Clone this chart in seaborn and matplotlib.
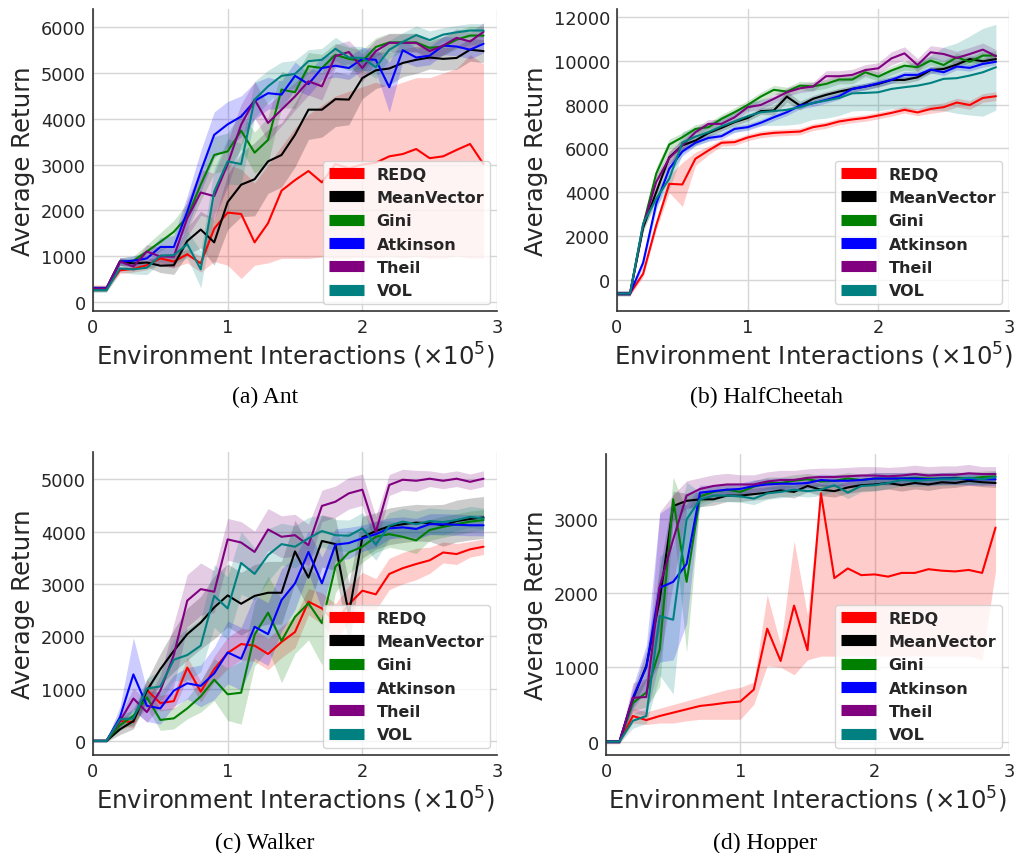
import numpy as np
import pandas as pd
import seaborn as sns
import matplotlib
matplotlib.use("Agg")
import matplotlib.pyplot as plt
from matplotlib.lines import Line2D

# ---------------- data ----------------
STEPS = [0.0, 0.1, 0.2, 0.3, 0.4, 0.5, 0.6, 0.7, 0.8, 0.9,
         1.0, 1.1, 1.2, 1.3, 1.4, 1.5, 1.6, 1.7, 1.8, 1.9,
         2.0, 2.1, 2.2, 2.3, 2.4, 2.5, 2.6, 2.7, 2.8, 2.9]
METHODS = ["REDQ", "MeanVector", "Gini", "Atkinson", "Theil", "VOL"]
COLORS = ["#ff0000", "#000000", "#008000", "#0000ff", "#800080", "#008080"]

# Ant
ANT_REDQ = [300, 300, 690, 720, 800, 950, 880, 1040, 840, 1600, 1950, 1920, 1300, 1720, 2430,
            2660, 2860, 2610, 3010, 2920, 3000, 3040, 3180, 3230, 3340, 3140, 3180, 3320, 3450, 3010]
ANT_REDQ_LO = [230, 230, 620, 650, 700, 850, 750, 850, 650, 880, 800, 510, 800, 850, 950,
               950, 950, 980, 950, 950, 980, 950, 1000, 950, 1000, 950, 950, 1000, 950, 950]
ANT_REDQ_HI = [370, 370, 760, 800, 900, 1050, 1050, 1150, 1000, 2300, 3000, 2900, 2600, 3000, 3400,
               3800, 4100, 4300, 4500, 4600, 4700, 4800, 4700, 4800, 4900, 4900, 5000, 5100, 5400, 5200]
ANT_MV = [290, 290, 880, 840, 860, 790, 800, 1330, 1580, 1300, 2180, 2560, 2680, 3070, 3210,
          3650, 4200, 4200, 4430, 4420, 4890, 5060, 5100, 5220, 5290, 5340, 5310, 5330, 5510, 5480]
ANT_MV_SD = [60, 60, 80, 80, 100, 150, 200, 300, 400, 500, 600, 700, 800, 700, 700,
             700, 650, 600, 600, 550, 450, 400, 350, 300, 300, 250, 250, 250, 250, 250]
ANT_GINI = [290, 290, 880, 900, 1100, 1310, 1530, 1860, 2560, 3210, 3290, 3740, 3260, 3540, 4640,
            4580, 5150, 5110, 5400, 5310, 5260, 5570, 5670, 5670, 5670, 5550, 5580, 5730, 5820, 5820]
ANT_GINI_SD = [50, 50, 80, 100, 150, 200, 250, 300, 350, 400, 400, 400, 450, 500, 400,
               350, 300, 300, 250, 250, 250, 200, 200, 200, 200, 200, 200, 200, 200, 200]
ANT_ATK = [300, 300, 880, 900, 950, 1200, 1200, 1970, 2850, 3650, 3880, 4050, 4390, 4560, 4530,
           4940, 4760, 5110, 5160, 5110, 5310, 5290, 4690, 5500, 5340, 5380, 5600, 5580, 5510, 5640]
ANT_ATK_SD = [50, 50, 80, 100, 150, 200, 250, 350, 450, 500, 500, 450, 400, 350, 300,
              300, 250, 250, 250, 250, 250, 250, 550, 250, 200, 200, 200, 200, 200, 200]
ANT_THEIL = [290, 290, 880, 770, 1100, 990, 990, 1830, 2390, 2310, 3010, 3870, 4420, 3910, 4200,
             4490, 4820, 4710, 5370, 5460, 5110, 5480, 5660, 5660, 5660, 5480, 5600, 5770, 5690, 5900]
ANT_THEIL_SD = [50, 50, 80, 100, 150, 200, 250, 400, 500, 500, 500, 450, 400, 400, 350,
                300, 300, 300, 250, 250, 300, 250, 200, 200, 200, 200, 200, 200, 200, 200]
ANT_VOL = [255, 255, 730, 710, 745, 1010, 1020, 1260, 710, 2410, 3070, 3010, 4420, 4710, 4940,
           4980, 5260, 5290, 5530, 5340, 5330, 5130, 5510, 5680, 5830, 5720, 5840, 5890, 5930, 5930]
ANT_VOL_SD = [50, 50, 80, 100, 150, 150, 200, 300, 400, 500, 500, 450, 400, 350, 300,
              300, 250, 250, 250, 250, 250, 250, 200, 200, 200, 200, 150, 150, 150, 150]

# HalfCheetah
HC_REDQ = [-600, -600, 300, 2500, 4390, 4360, 5530, 5910, 6260, 6290, 6500, 6640, 6710, 6740, 6770,
           6970, 7070, 7230, 7320, 7390, 7500, 7620, 7760, 7640, 7800, 7880, 8090, 7980, 8300, 8380]
HC_REDQ_SD = [100, 100, 150, 200, 400, 1000, 300, 200, 150, 150, 150, 150, 150, 150, 150,
              150, 150, 150, 150, 150, 150, 150, 150, 150, 200, 200, 200, 200, 200, 200]
HC_MV = [-600, -600, 2400, 4010, 5600, 6140, 6360, 6700, 6940, 7200, 7390, 7700, 7730, 8360, 7950,
         8260, 8440, 8590, 8710, 8820, 8940, 9120, 9120, 9240, 9570, 9620, 9820, 10070, 9970, 10070]
HC_MV_SD = [100, 100, 200, 300, 300, 250, 200, 150, 150, 150, 150, 150, 200, 250, 200,
            150, 150, 150, 150, 150, 150, 150, 150, 150, 150, 150, 150, 150, 150, 150]
HC_GINI = [-600, -600, 2500, 4850, 6180, 6510, 6890, 6970, 7350, 7650, 7980, 8360, 8670, 8590, 8860,
           8830, 8940, 9140, 9140, 9470, 9270, 9550, 9770, 9700, 10000, 9800, 10150, 9950, 10230, 10230]
HC_GINI_SD = [100, 100, 200, 300, 250, 200, 200, 200, 200, 200, 200, 200, 200, 200, 200,
              200, 200, 200, 200, 200, 200, 200, 200, 200, 200, 200, 200, 200, 200, 200]
HC_ATK = [-600, -600, 800, 3480, 5080, 5860, 6260, 6480, 6560, 6890, 6970, 7170, 7420, 7650, 7950,
          8060, 8210, 8380, 8710, 8820, 8970, 9120, 9350, 9350, 9590, 9470, 9730, 9670, 9850, 9950]
HC_ATK_SD = [100, 100, 200, 300, 250, 200, 150, 150, 150, 150, 150, 150, 150, 150, 150,
             150, 150, 150, 150, 150, 150, 150, 150, 150, 150, 150, 150, 150, 150, 150]
HC_THEIL = [-600, -600, 2500, 4470, 5560, 6140, 6740, 7120, 7120, 7420, 7880, 7980, 8260, 8560, 8740,
            8820, 9290, 9290, 9350, 9570, 9650, 10100, 10330, 9800, 10380, 10300, 10120, 10300, 10500, 10200]
HC_THEIL_SD = [100, 100, 200, 300, 300, 250, 200, 200, 200, 200, 200, 200, 200, 200, 200,
               200, 250, 250, 250, 250, 250, 300, 300, 300, 300, 300, 300, 300, 300, 300]
HC_VOL = [-600, -600, 2580, 3710, 4620, 6260, 6540, 6740, 7010, 7230, 7470, 7650, 7700, 7760, 7880,
          8070, 8180, 8300, 8510, 8530, 8560, 8710, 8790, 8860, 8980, 9170, 9200, 9320, 9470, 9700]
HC_VOL_SD = [100, 100, 200, 300, 500, 500, 400, 400, 450, 500, 600, 600, 650, 700, 750,
             750, 800, 800, 800, 800, 850, 900, 1000, 1100, 1250, 1450, 1600, 1800, 2000, 1950]

# Walker
WK_REDQ = [0, 0, 380, 360, 975, 720, 760, 1400, 940, 1370, 1680, 1850, 1820, 1660, 1890,
           2080, 2660, 2530, 2270, 2610, 2870, 2800, 3190, 3300, 3380, 3450, 3600, 3570, 3660, 3710]
WK_REDQ_SD = [20, 20, 100, 100, 200, 150, 150, 200, 200, 250, 300, 300, 300, 300, 300,
              300, 250, 300, 350, 350, 350, 300, 300, 300, 300, 250, 200, 200, 150, 150]
WK_MV = [0, 0, 220, 380, 960, 1370, 1720, 2040, 2260, 2550, 2780, 2620, 2770, 2830, 2830,
         3620, 3120, 3820, 3760, 2420, 3890, 4010, 4100, 4140, 4170, 4160, 4120, 4200, 4240, 4270]
WK_MV_SD = [20, 20, 100, 150, 200, 300, 400, 500, 500, 600, 600, 600, 600, 600, 600,
            600, 600, 500, 500, 600, 400, 350, 350, 350, 350, 350, 400, 400, 400, 400]
WK_GINI = [0, 0, 300, 480, 830, 400, 430, 620, 850, 1170, 890, 920, 2030, 2450, 1910,
           2370, 2630, 2250, 3330, 3600, 3710, 3900, 3950, 3900, 3830, 4030, 4090, 4140, 4190, 4220]
WK_GINI_SD = [20, 20, 100, 150, 200, 200, 200, 200, 300, 400, 500, 600, 600, 700, 800,
              700, 700, 800, 500, 400, 300, 300, 250, 250, 250, 200, 200, 200, 200, 200]
WK_ATK = [0, 0, 450, 1270, 670, 620, 960, 1100, 1050, 1290, 1690, 1570, 2180, 2040, 2690,
          3010, 3610, 3010, 3750, 3780, 3870, 3950, 4060, 4080, 4050, 4140, 4140, 4130, 4120, 4120]
WK_ATK_SD = [20, 20, 200, 700, 300, 300, 300, 300, 400, 500, 600, 600, 600, 600, 600,
             500, 400, 500, 300, 300, 250, 250, 200, 200, 200, 200, 200, 200, 200, 200]
WK_THEIL = [0, 0, 380, 810, 550, 960, 1640, 2680, 2900, 2850, 3850, 3790, 3610, 4040, 3900,
            3930, 3740, 4490, 4570, 4730, 4800, 3990, 4890, 4990, 4970, 5010, 4970, 5010, 4950, 5010]
WK_THEIL_SD = [20, 20, 100, 200, 200, 300, 600, 500, 500, 400, 400, 400, 400, 400, 400,
               400, 400, 300, 300, 300, 300, 300, 200, 200, 200, 150, 150, 150, 150, 150]
WK_VOL = [0, 0, 410, 430, 1000, 1040, 1550, 1640, 1820, 2770, 2530, 3400, 3190, 3550, 3760,
          3710, 3870, 4010, 3930, 3920, 4060, 3750, 4110, 4190, 4140, 4200, 4180, 4220, 4280, 4250]
WK_VOL_SD = [20, 20, 100, 150, 200, 300, 400, 500, 500, 600, 600, 600, 500, 500, 400,
             400, 400, 300, 300, 300, 300, 300, 250, 250, 250, 250, 250, 200, 200, 200]

# Hopper
HP_REDQ = [0, 0, 345, 290, 345, 390, 435, 480, 500, 525, 540, 700, 1520, 1085, 1830,
           1230, 3340, 2200, 2330, 2240, 2250, 2220, 2270, 2270, 2320, 2300, 2290, 2310, 2270, 2880]
HP_REDQ_LO = [-30, -30, 250, 230, 250, 250, 280, 300, 300, 300, 300, 500, 1020, 1000, 900,
              1100, 1150, 1150, 1150, 1150, 1150, 1150, 1150, 1150, 1150, 1150, 1150, 1150, 1100, 2300]
HP_REDQ_HI = [30, 30, 450, 400, 450, 500, 550, 600, 650, 700, 730, 800, 1980, 1300, 2700,
              1700, 3450, 3450, 3460, 3460, 3470, 3470, 3470, 3470, 3480, 3480, 3480, 3480, 3480, 3480]
HP_MV = [0, 0, 570, 1020, 1910, 3170, 3240, 3260, 3260, 3310, 3310, 3330, 3350, 3380, 3360,
         3440, 3390, 3370, 3420, 3450, 3460, 3480, 3450, 3480, 3460, 3490, 3480, 3510, 3490, 3480]
HP_MV_SD = [20, 20, 100, 200, 400, 200, 100, 100, 80, 80, 80, 80, 80, 80, 80,
            80, 80, 80, 80, 80, 80, 80, 80, 80, 80, 80, 60, 60, 60, 60]
HP_GINI = [0, 0, 520, 660, 1240, 3260, 2150, 3300, 3360, 3390, 3360, 3430, 3480, 3480, 3510,
           3530, 3500, 3510, 3540, 3520, 3540, 3540, 3540, 3550, 3540, 3540, 3550, 3540, 3560, 3570]
HP_GINI_SD = [20, 20, 100, 200, 500, 300, 950, 100, 80, 80, 80, 80, 80, 80, 80,
              80, 80, 80, 80, 80, 80, 80, 80, 80, 80, 80, 80, 80, 80, 80]
HP_ATK = [0, 0, 590, 1000, 2070, 2150, 2390, 3350, 3370, 3390, 3400, 3440, 3460, 3470, 3470,
          3480, 3520, 3510, 3510, 3520, 3540, 3540, 3540, 3540, 3530, 3540, 3540, 3530, 3530, 3530]
HP_ATK_SD = [20, 20, 150, 300, 1000, 1050, 800, 100, 80, 80, 80, 80, 80, 80, 80,
             80, 80, 80, 80, 80, 80, 80, 80, 80, 80, 80, 80, 80, 80, 80]
HP_THEIL = [0, 0, 590, 600, 2090, 2720, 3310, 3400, 3440, 3460, 3460, 3460, 3500, 3520, 3520,
            3550, 3560, 3560, 3570, 3580, 3580, 3570, 3580, 3600, 3580, 3590, 3590, 3610, 3600, 3600]
HP_THEIL_SD = [20, 20, 200, 250, 1000, 600, 200, 150, 150, 150, 130, 130, 130, 130, 130,
               120, 120, 120, 120, 120, 120, 120, 120, 120, 120, 120, 120, 120, 100, 100]
HP_VOL = [0, 0, 280, 345, 1690, 1640, 2990, 3260, 3310, 3310, 3300, 3270, 3340, 3360, 3390,
          3370, 3390, 3450, 3350, 3440, 3450, 3480, 3520, 3510, 3520, 3530, 3530, 3550, 3530, 3560]
HP_VOL_SD = [20, 20, 100, 100, 800, 1000, 500, 100, 80, 80, 80, 80, 80, 80, 80,
             80, 80, 80, 80, 80, 80, 80, 80, 80, 80, 80, 80, 80, 80, 80]

PANELS = [
    dict(caption="(a) Ant", ylim=(-200, 6400), yticks=[0, 1000, 2000, 3000, 4000, 5000, 6000],
         means=[ANT_REDQ, ANT_MV, ANT_GINI, ANT_ATK, ANT_THEIL, ANT_VOL],
         sds=[None, ANT_MV_SD, ANT_GINI_SD, ANT_ATK_SD, ANT_THEIL_SD, ANT_VOL_SD],
         lo_hi={0: (ANT_REDQ_LO, ANT_REDQ_HI)}),
    dict(caption="(b) HalfCheetah", ylim=(-1400, 12350),
         yticks=[0, 2000, 4000, 6000, 8000, 10000, 12000],
         means=[HC_REDQ, HC_MV, HC_GINI, HC_ATK, HC_THEIL, HC_VOL],
         sds=[HC_REDQ_SD, HC_MV_SD, HC_GINI_SD, HC_ATK_SD, HC_THEIL_SD, HC_VOL_SD], lo_hi={}),
    dict(caption="(c) Walker", ylim=(-270, 5520), yticks=[0, 1000, 2000, 3000, 4000, 5000],
         means=[WK_REDQ, WK_MV, WK_GINI, WK_ATK, WK_THEIL, WK_VOL],
         sds=[WK_REDQ_SD, WK_MV_SD, WK_GINI_SD, WK_ATK_SD, WK_THEIL_SD, WK_VOL_SD], lo_hi={}),
    dict(caption="(d) Hopper", ylim=(-180, 3870), yticks=[0, 1000, 2000, 3000],
         means=[HP_REDQ, HP_MV, HP_GINI, HP_ATK, HP_THEIL, HP_VOL],
         sds=[None, HP_MV_SD, HP_GINI_SD, HP_ATK_SD, HP_THEIL_SD, HP_VOL_SD],
         lo_hi={0: (HP_REDQ_LO, HP_REDQ_HI)}),
]

# ---------------- style ----------------
sns.set_style("whitegrid", {"grid.color": "#d6d6d6", "axes.edgecolor": "#333333"})
plt.rcParams["font.family"] = ["DejaVu Sans"]
plt.rcParams["mathtext.fontset"] = "dejavusans"

fig = plt.figure(figsize=(10.18, 8.54), dpi=100)
W, H = 1018, 854
boxes = [(93, 10, 497, 312), (617, 10, 1009, 312), (93, 453, 497, 756), (606, 455, 1009, 756)]
cap_pos = [(265, 397), (766, 397), (265, 843), (765, 843)]

for p, (x0, y0, x1, y1), (cx, cy) in zip(PANELS, boxes, cap_pos):
    ax = fig.add_axes([x0 / W, 1 - y1 / H, (x1 - x0) / W, (y1 - y0) / H])
    rows = []
    for m, vals in zip(METHODS, p["means"]):
        for s, v in zip(STEPS, vals):
            rows.append((m, s, v))
    df = pd.DataFrame(rows, columns=["method", "step", "ret"])
    steps = np.array(STEPS)
    for k, (m, c) in enumerate(zip(METHODS, COLORS)):
        mean = np.array(p["means"][k], dtype=float)
        if k in p["lo_hi"]:
            lo = np.array(p["lo_hi"][k][0], dtype=float)
            hi = np.array(p["lo_hi"][k][1], dtype=float)
        else:
            sd = np.array(p["sds"][k], dtype=float)
            lo, hi = mean - sd, mean + sd
        ax.fill_between(steps, lo, hi, color=c, alpha=0.2, linewidth=0)
    sns.lineplot(data=df, x="step", y="ret", hue="method", hue_order=METHODS,
                 palette=COLORS, ax=ax, legend=False, linewidth=1.5, errorbar=None)
    ax.set_xlim(0, 3)
    ax.set_ylim(*p["ylim"])
    ax.set_xticks([0, 1, 2, 3])
    ax.set_yticks(p["yticks"])
    ax.tick_params(labelsize=12.8, colors="#262626", length=0, pad=5)
    ax.set_xlabel(r"Environment Interactions ($\times10^5$)", fontsize=17.6, color="#262626", labelpad=3)
    ax.set_ylabel("Average Return", fontsize=17.6, color="#262626", labelpad=4)
    sns.despine(ax=ax)
    for sp in ("left", "bottom"):
        ax.spines[sp].set_color("#333333")
        ax.spines[sp].set_linewidth(1.2)
    ax.grid(True, color="#d6d6d6", linewidth=1)
    handles = [Line2D([0], [0], color=c, lw=8, solid_capstyle="butt") for c in COLORS]
    leg = ax.legend(handles, METHODS, loc="lower right", prop={"weight": "bold", "size": 11.5},
                    handlelength=2.2, labelspacing=0.52, handletextpad=0.8, borderpad=0.35,
                    borderaxespad=0.45, frameon=True, framealpha=0.8, edgecolor="#cccccc",
                    fancybox=True)
    for t in leg.get_texts():
        t.set_color("#262626")
    fig.text(cx / W, 1 - cy / H, p["caption"], ha="center", va="center", fontsize=17,
             family=["Liberation Serif"], color="black")

fig.savefig("out.png", dpi=100)
